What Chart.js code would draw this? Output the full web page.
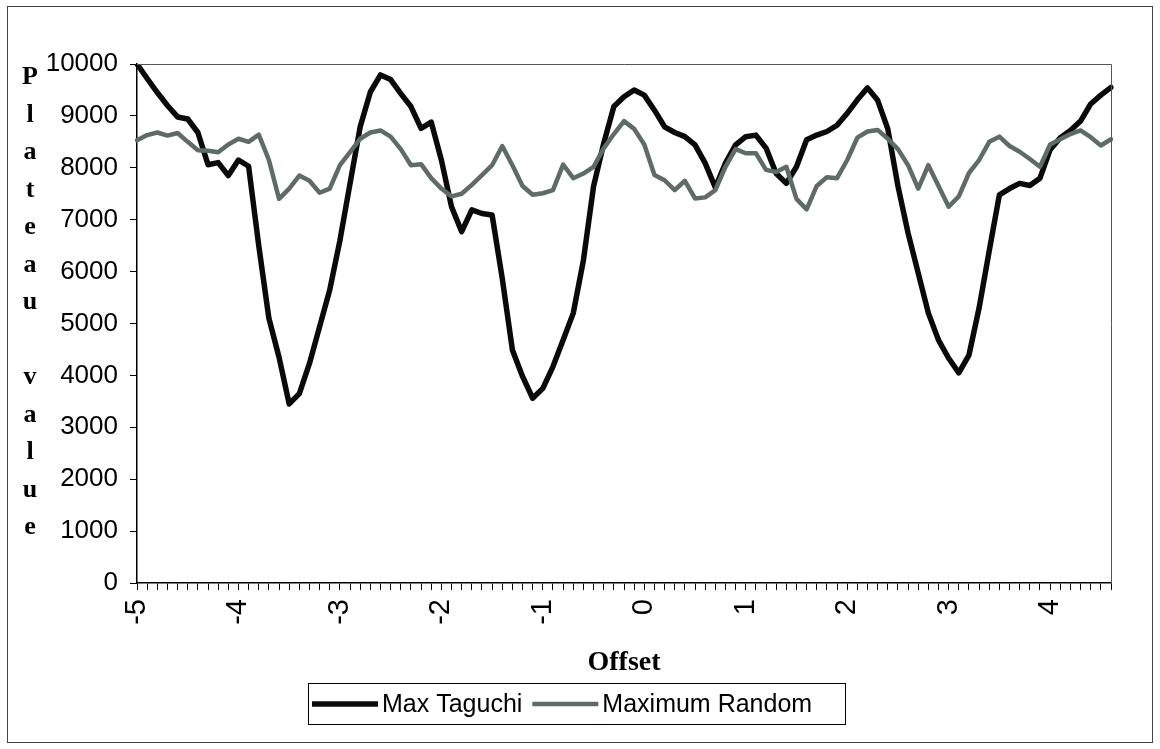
<!DOCTYPE html>
<html>
<head>
<meta charset="utf-8">
<title>Plateau value vs Offset</title>
<script src="https://cdn.jsdelivr.net/npm/chart.js@4.4.1/dist/chart.umd.min.js"></script>
<style>
  html, body { margin: 0; padding: 0; background: #ffffff; }
  #wrap { width: 1160px; height: 749px; position: relative; }
</style>
</head>
<body>
<div id="wrap"><canvas id="chart" width="1160" height="749"></canvas></div>
<script>
// Offset categories (step 0.1)
const offsets = [
  '-5','-4.9','-4.8','-4.7','-4.6','-4.5','-4.4','-4.3','-4.2','-4.1',
  '-4','-3.9','-3.8','-3.7','-3.6','-3.5','-3.4','-3.3','-3.2','-3.1',
  '-3','-2.9','-2.8','-2.7','-2.6','-2.5','-2.4','-2.3','-2.2','-2.1',
  '-2','-1.9','-1.8','-1.7','-1.6','-1.5','-1.4','-1.3','-1.2','-1.1',
  '-1','-0.9','-0.8','-0.7','-0.6','-0.5','-0.4','-0.3','-0.2','-0.1',
  '0','0.1','0.2','0.3','0.4','0.5','0.6','0.7','0.8','0.9',
  '1','1.1','1.2','1.3','1.4','1.5','1.6','1.7','1.8','1.9',
  '2','2.1','2.2','2.3','2.4','2.5','2.6','2.7','2.8','2.9',
  '3','3.1','3.2','3.3','3.4','3.5','3.6','3.7','3.8','3.9',
  '4','4.1','4.2','4.3','4.4','4.5','4.6'
];

// Offsets that get a printed label on the axis
const shownTicks = ['-5','-4','-3','-2','-1','0','1','2','3','4'];

const maxTaguchi = [
  10000, 9720, 9450, 9200, 8980, 8940, 8680, 8060, 8100, 7850,
  8150, 8030, 6500, 5100, 4350, 3450, 3650, 4230, 4940, 5650,
  6600, 7700, 8790, 9460, 9790, 9700, 9430, 9180, 8760, 8880,
  8150, 7250, 6770, 7190, 7120, 7090, 5870, 4490, 3980, 3560,
  3750, 4170, 4680, 5200, 6220, 7640, 8470, 9180, 9370, 9500,
  9400, 9110, 8790, 8680, 8600, 8440, 8090, 7620, 8090, 8440,
  8600, 8630, 8380, 7890, 7700, 8020, 8540, 8630, 8700, 8820,
  9050, 9310, 9540, 9300, 8750, 7650, 6740, 5970, 5200, 4680,
  4330, 4050, 4390, 5300, 6400, 7480, 7600, 7700, 7660, 7800,
  8350, 8580, 8720, 8900, 9230, 9400, 9550
];

const maximumRandom = [
  8530, 8630, 8680, 8620, 8670, 8500, 8340, 8330, 8300, 8450,
  8560, 8500, 8640, 8150, 7400, 7600, 7850, 7750, 7520, 7600,
  8050, 8300, 8560, 8680, 8720, 8600, 8360, 8050, 8070, 7800,
  7600, 7450, 7500, 7670, 7860, 8050, 8420, 8050, 7650, 7480,
  7510, 7570, 8060, 7800, 7890, 8020, 8375, 8650, 8900, 8750,
  8450, 7860, 7760, 7570, 7750, 7410, 7430, 7570, 8020, 8360,
  8280, 8280, 7960, 7920, 8020, 7400, 7200, 7650, 7820, 7800,
  8150, 8580, 8700, 8730, 8560, 8360, 8050, 7600, 8050, 7650,
  7250, 7450, 7900, 8150, 8500, 8600, 8420, 8310, 8170, 8020,
  8450, 8550, 8650, 8720, 8590, 8430, 8550
];

// Vertical axis title, one letter per line
const yTitleLetters = ['P','l','a','t','e','a','u','','v','a','l','u','e'];

const sansFont = '"Liberation Sans", Arial, sans-serif';
const serifFont = '"Liberation Serif", "Times New Roman", serif';

// Outer frame, plot box, stacked y title and boxed legend
const decorations = {
  id: 'decorations',
  afterDraw(chart) {
    const ctx = chart.ctx;
    const a = chart.chartArea;
    ctx.save();

    // outer frame
    ctx.strokeStyle = '#444';
    ctx.lineWidth = 1;
    ctx.strokeRect(7.5, 6.5, 1145, 736);

    // top and right edges of the plot box
    ctx.strokeStyle = '#555';
    ctx.beginPath();
    ctx.moveTo(a.left, a.top + 0.5);
    ctx.lineTo(a.right + 0.5, a.top + 0.5);
    ctx.lineTo(a.right + 0.5, a.bottom);
    ctx.stroke();

    // stacked y title
    ctx.fillStyle = '#000';
    ctx.font = 'bold 26px ' + serifFont;
    ctx.textAlign = 'center';
    ctx.textBaseline = 'alphabetic';
    yTitleLetters.forEach((ch, k) => ctx.fillText(ch, 30, 84 + k * 37.5));

    // legend
    const box = { x: 308.5, y: 683.5, w: 537, h: 41 };
    ctx.strokeStyle = '#000';
    ctx.lineWidth = 1;
    ctx.strokeRect(box.x, box.y, box.w, box.h);
    const cy = box.y + box.h / 2;
    ctx.font = '25px ' + sansFont;
    ctx.textAlign = 'left';
    ctx.textBaseline = 'middle';
    let x = 312;
    chart.data.datasets.forEach(ds => {
      ctx.strokeStyle = ds.borderColor;
      ctx.lineWidth = ds.borderWidth;
      ctx.lineCap = 'butt';
      ctx.beginPath();
      ctx.moveTo(x, cy);
      ctx.lineTo(x + 66, cy);
      ctx.stroke();
      x += 70;
      ctx.fillStyle = '#000';
      ctx.fillText(ds.label, x, cy + 1);
      x += ctx.measureText(ds.label).width + 10;
    });
    ctx.restore();
  }
};

new Chart(document.getElementById('chart'), {
  type: 'line',
  data: {
    labels: offsets,
    datasets: [
      {
        label: 'Max Taguchi',
        data: maxTaguchi,
        borderColor: '#0a0a0a',
        borderWidth: 5.5,
        order: 1
      },
      {
        label: 'Maximum Random',
        data: maximumRandom,
        borderColor: '#5d6d65',
        borderWidth: 4.5,
        order: 0
      }
    ]
  },
  options: {
    responsive: false,
    animation: false,
    layout: { padding: { top: 64, right: 49, bottom: 69, left: 0 } },
    elements: {
      point: { radius: 0 },
      line: { tension: 0, borderJoinStyle: 'round', borderCapStyle: 'round' }
    },
    plugins: {
      legend: { display: false },
      tooltip: { enabled: false }
    },
    scales: {
      x: {
        type: 'category',
        offset: false,
        grid: { drawOnChartArea: false, drawTicks: true, tickLength: 7, color: '#000', lineWidth: 1 },
        border: { display: true, color: '#000', width: 1.5 },
        ticks: {
          autoSkip: false,
          maxRotation: 90,
          minRotation: 90,
          padding: 9,
          color: '#000',
          font: { family: sansFont, size: 29 },
          callback: function (value) {
            const lab = this.getLabelForValue(value);
            return shownTicks.includes(lab) ? lab : '';
          }
        },
        title: {
          display: true,
          text: 'Offset',
          color: '#000',
          font: { family: serifFont, size: 28, weight: 'bold' },
          padding: { top: 0, bottom: 0 }
        },
        afterFit(scale) { scale.height = 97; }
      },
      y: {
        min: 0,
        max: 10000,
        ticks: {
          stepSize: 1000,
          color: '#000',
          padding: 12,
          font: { family: sansFont, size: 26 },
          callback: value => String(value)
        },
        grid: { drawOnChartArea: false, drawTicks: true, tickLength: 7, color: '#000' },
        border: { display: true, color: '#000', width: 1.5 },
        afterFit(scale) { scale.width = 137; }
      }
    }
  },
  plugins: [decorations]
});
</script>
</body>
</html>
